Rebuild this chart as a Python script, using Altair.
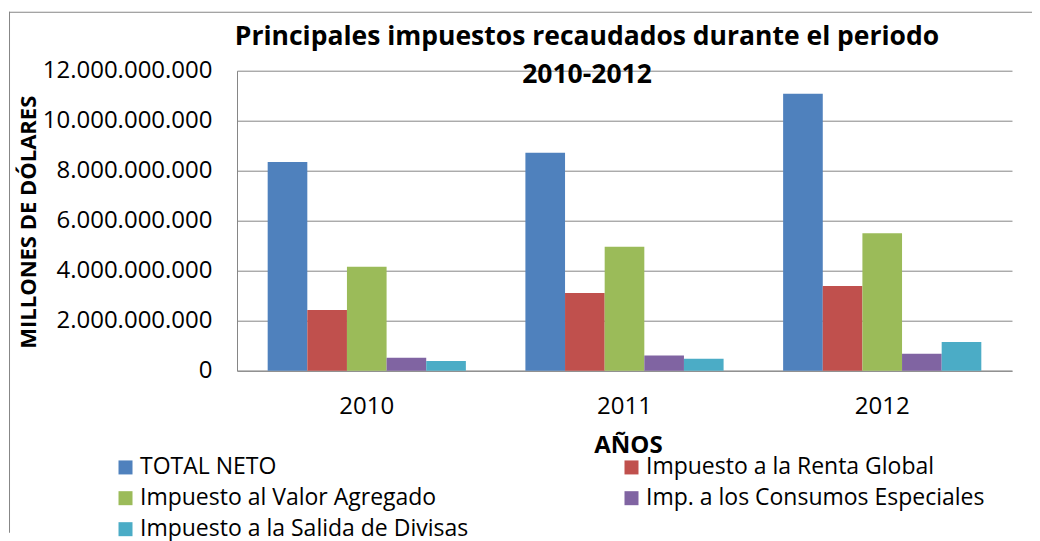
import altair as alt
import pandas as pd

years = ["2010", "2011", "2012"]
series = [
    "TOTAL NETO",
    "Impuesto a la Renta Global",
    "Impuesto al Valor Agregado",
    "Imp. a los Consumos Especiales",
    "Impuesto a la Salida de Divisas",
]
colors = ["#4F81BD", "#C0504D", "#9BBB59", "#8064A2", "#4BACC6"]
total_neto = [8.35e9, 8.72e9, 11.08e9]
renta = [2.43e9, 3.11e9, 3.39e9]
iva = [4.16e9, 4.96e9, 5.50e9]
ice = [0.52e9, 0.61e9, 0.68e9]
isd = [0.39e9, 0.48e9, 1.15e9]
y_ticks = [0, 2e9, 4e9, 6e9, 8e9, 10e9, 12e9]
title_lines = ["Principales impuestos recaudados durante el periodo", "2010-2012"]

values = [total_neto, renta, iva, ice, isd]
rows = []
for s, vals in zip(series, values):
    for yr, v in zip(years, vals):
        rows.append({"year": yr, "serie": s, "valor": v})
df = pd.DataFrame(rows)

FONT = "Open Sans"
GRID = "#868686"
one = pd.DataFrame({"a": [0]})

# outer chart frame (top and left edges) as thin filled strips
frame_top = alt.Chart(one).mark_rect(color=GRID, strokeWidth=0).encode(
    x=alt.value(-228), x2=alt.value(795), y=alt.value(-59), y2=alt.value(-58)
)
frame_left = alt.Chart(one).mark_rect(color=GRID, strokeWidth=0).encode(
    x=alt.value(-228), x2=alt.value(-227), y=alt.value(-59), y2=alt.value(462)
)

title = alt.Chart(one).mark_text(
    font=FONT, fontSize=26.5, fontWeight="bold", color="#000000",
    align="center", baseline="top", lineHeight=38,
).encode(x=alt.value(350), y=alt.value(-47), text=alt.value(title_lines))

bars = alt.Chart(df).mark_bar().encode(
    x=alt.X(
        "year:N",
        sort=years,
        scale=alt.Scale(paddingInner=0.231, paddingOuter=0.119),
        axis=alt.Axis(
            title="AÑOS",
            labelAngle=0,
            ticks=False,
            tickSize=0,
            labelPadding=43,
            labelBaseline="alphabetic",
            labelFont=FONT,
            labelFontSize=24,
            labelColor="#000000",
            titleFont=FONT,
            titleFontSize=24,
            titleFontWeight="bold",
            titleColor="#000000",
            titleBaseline="alphabetic",
            titleY=82,
            titleX=391,
            domainColor=GRID,
            grid=False,
        ),
    ),
    xOffset=alt.XOffset("serie:N", sort=series),
    y=alt.Y(
        "valor:Q",
        scale=alt.Scale(domain=[0, 12e9], nice=False),
        axis=alt.Axis(
            title="MILLONES DE DÓLARES",
            values=y_ticks,
            labelExpr="replace(format(datum.value, ','), /,/g, '.')",
            ticks=False,
            tickSize=0,
            labelPadding=25,
            labelFont=FONT,
            labelFontSize=24,
            labelColor="#000000",
            titleFont=FONT,
            titleFontSize=22,
            titleFontWeight="bold",
            titleColor="#000000",
            titleX=-202,
            titleY=151,
            titleAngle=-90,
            titleBaseline="alphabetic",
            gridColor=GRID,
            gridWidth=1,
            domainColor=GRID,
        ),
    ),
    color=alt.Color(
        "serie:N",
        sort=series,
        scale=alt.Scale(domain=series, range=colors),
        legend=alt.Legend(
            title=None,
            orient="none",
            direction="horizontal",
            legendX=-123,
            legendY=385,
            columns=2,
            columnPadding=151,
            rowPadding=7,
            symbolType="square",
            symbolSize=196,
            symbolStrokeWidth=0,
            symbolOpacity=1,
            labelFont=FONT,
            labelFontSize=23,
            labelColor="#000000",
            labelOffset=3,
            labelLimit=500,
            padding=0,
        ),
    ),
)

chart = alt.layer(frame_top, frame_left, bars, title).properties(
    width=775,
    height=300,
    autosize=alt.AutoSizeParams(type="none"),
    padding={"left": 229, "top": 62.7, "right": 20, "bottom": 170},
    background="#FFFFFF",
).configure_view(stroke=None)

chart.save("out.html", embed_options={"renderer": "svg", "actions": False})
